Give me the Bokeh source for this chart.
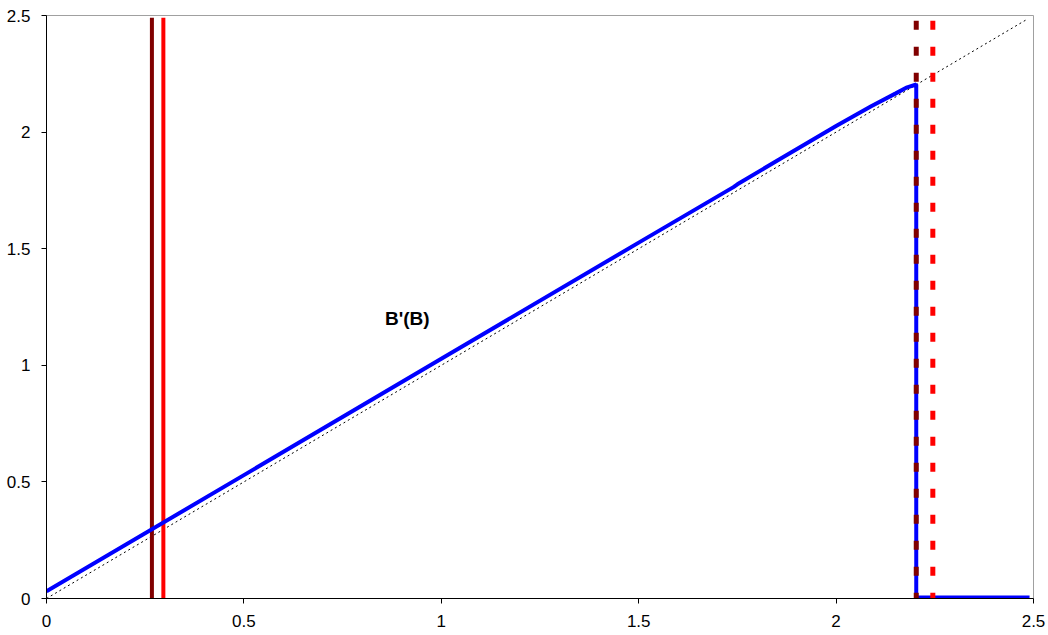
from bokeh.plotting import figure
from bokeh.models import Range1d, FixedTicker
from bokeh.core.properties import value
from bokeh.embed import file_html
from bokeh.resources import INLINE

# ---- data ----
ticks = [0, 0.5, 1.0, 1.5, 2.0, 2.5]
tick_labels = ["0", "0.5", "1", "1.5", "2", "2.5"]

diag_x = [0.0, 2.48]
diag_y = [0.0, 2.48]

solid_x = [0.267, 0.296]
solid_colors = ["#800000", "#ff0000"]
solid_top = 2.49

dash_x = [2.203, 2.245]
dash_colors = ["#800000", "#ff0000"]
dash_top = 2.477

B = [0.0, 0.5, 1.0, 1.5, 1.74, 1.75, 1.86, 2.0, 2.09, 2.15, 2.18, 2.203, 2.203, 2.49]
Bp = [0.031, 0.529, 1.028, 1.526, 1.764, 1.776, 1.887, 2.026, 2.112, 2.165, 2.192, 2.204, 0.004, 0.004]

label_text = "B'(B)"
label_x = 0.914
label_y = 1.202

# ---- figure ----
p = figure(width=1046, height=633, output_backend="svg", toolbar_location=None,
           x_range=Range1d(0, 2.5), y_range=Range1d(0, 2.5),
           min_border_left=46, min_border_right=13, min_border_top=15, min_border_bottom=35)
p.background_fill_color = "white"
p.border_fill_color = "white"
p.outline_line_color = "#a0a0a0"
p.outline_line_width = 1
p.xgrid.visible = False
p.ygrid.visible = False

for ax in (p.xaxis[0], p.yaxis[0]):
    ax.ticker = FixedTicker(ticks=ticks)
    ax.major_label_overrides = {t: l for t, l in zip(ticks, tick_labels)}
    ax.minor_tick_line_color = None
    ax.major_tick_in = 0
    ax.major_tick_out = 5
    ax.major_tick_line_color = "black"
    ax.axis_line_color = "black"
    ax.major_label_text_font = "Liberation Sans"
    ax.major_label_text_font_size = "17px"
    ax.major_label_text_color = "black"
p.xaxis[0].major_label_standoff = 11
p.yaxis[0].major_label_standoff = 11

# diagonal
p.line(diag_x, diag_y, line_color="black", line_width=1, line_dash="2 3")

# solid verticals
for x, c in zip(solid_x, solid_colors):
    p.line([x, x], [0, solid_top], line_color=c, line_width=4)

# blue B'(B)
p.line(B, Bp, line_color="#0000ff", line_width=4)

# dashed verticals (drawn top to bottom so dashes start at the top)
for x, c in zip(dash_x, dash_colors):
    p.line([x, x], [dash_top, 0], line_color=c, line_width=5, line_dash="9 17")

p.text(x=[label_x], y=[label_y], text=[label_text], text_font=value("Liberation Sans"),
       text_font_style="bold", text_font_size="19px", text_align="center",
       text_baseline="middle", text_color="black")

open("out.html", "w").write(file_html(p, INLINE))
